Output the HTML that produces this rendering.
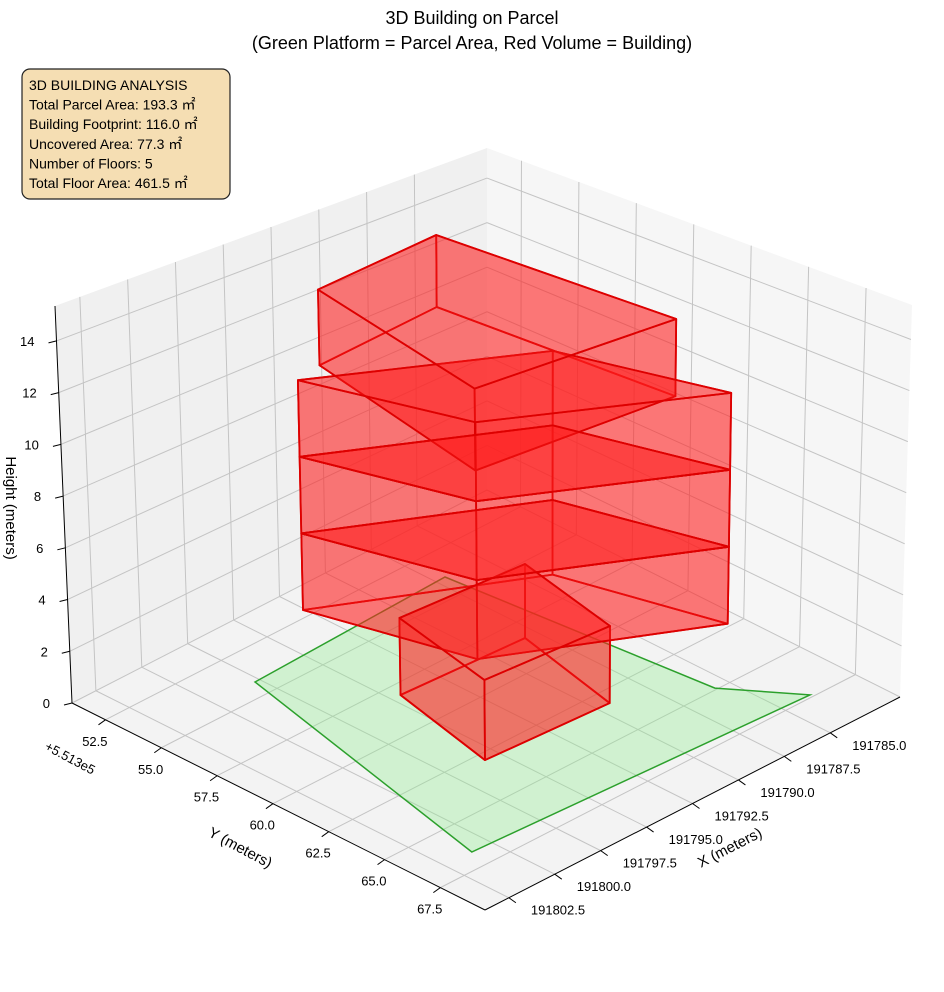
<!DOCTYPE html>
<html><head><meta charset="utf-8"><style>
html,body{margin:0;padding:0;background:#fff;}
svg{display:block;font-family:"Liberation Sans","Noto Sans CJK JP",sans-serif;}
</style></head><body>
<svg id="chart" width="944" height="992" viewBox="0 0 944 992" xmlns="http://www.w3.org/2000/svg">
<rect x="0" y="0" width="944" height="992" fill="#fff"/>
<text x="472" y="24" text-anchor="middle" font-size="18" fill="#000">3D Building on Parcel</text>
<text x="472" y="49" text-anchor="middle" font-size="18" fill="#000">(Green Platform = Parcel Area, Red Volume = Building)</text>
<g id="panes"></g>
<g id="grid"></g>
<g id="axes"></g>
<g id="parcel"></g>
<g id="building"></g>
<text x="0" y="0" transform="translate(6,508) rotate(90)" text-anchor="middle" font-size="15" fill="#000">Height (meters)</text>
<text x="0" y="0" transform="translate(238,852) rotate(28)" text-anchor="middle" font-size="15" fill="#000">Y (meters)</text>
<text x="0" y="0" transform="translate(732,852) rotate(-27)" text-anchor="middle" font-size="15" fill="#000">X (meters)</text>
<text x="0" y="0" transform="translate(68,762) rotate(28)" text-anchor="middle" font-size="13" fill="#000">+5.513e5</text>
<g>
<rect x="22" y="69" width="208" height="130" rx="8" ry="8" fill="#f5deb3" stroke="#222" stroke-width="1.2"/>
<text x="29" y="90" font-size="14" fill="#000">3D BUILDING ANALYSIS</text>
<text x="29" y="109.6" font-size="14" fill="#000">Total Parcel Area: 193.3 ㎡</text>
<text x="29" y="129.2" font-size="14" fill="#000">Building Footprint: 116.0 ㎡</text>
<text x="29" y="148.8" font-size="14" fill="#000">Uncovered Area: 77.3 ㎡</text>
<text x="29" y="168.4" font-size="14" fill="#000">Number of Floors: 5</text>
<text x="29" y="188" font-size="14" fill="#000">Total Floor Area: 461.5 ㎡</text>
</g>
</svg>
<script>
// axis ranges
const xMax = 191803.8, xSpan = 22.6;
const yMin = 51.0, ySpan = 18.5;
const zSpan = 15.35;
// tick values
const xTicks = [191785.0, 191787.5, 191790.0, 191792.5, 191795.0, 191797.5, 191800.0, 191802.5];
const yTicks = [52.5, 55.0, 57.5, 60.0, 62.5, 65.0, 67.5];
const zTicks = [0, 2, 4, 6, 8, 10, 12, 14];
// parcel polygon (x, y) at ground level
const parcelX = [191797.75, 191787.0, 191785.7, 191783.51, 191801.04];
const parcelY = [54.22, 53.89, 64.91, 67.37, 66.64];
// building footprints
const floor1X = [191794.53, 191795.75, 191789.34, 191788.12];
const floor1Y = [58.09, 62.88, 63.19, 58.40];
const midX = [191796.66, 191794.76, 191786.06, 191787.98];
const midY = [55.55, 61.75, 65.73, 59.51];
const topX = [191795.10, 191797.97, 191787.75, 191788.13];
const topY = [55.20, 64.41, 64.69, 54.55];
// floors: footprint index, base and top heights
const floorShape = [0, 1, 1, 1, 2];
const floorBase = [0, 3, 6, 9, 12];
const floorTop = [3, 6, 9, 12, 15];

const NS = 'http://www.w3.org/2000/svg';
function uvw(x, y, z) { return [(xMax - x) / xSpan, (y - yMin) / ySpan, z / zSpan]; }
function proj(x, y, z) {
  const [u, v, w] = uvw(x, y, z);
  const h = 397 - 55 * u + 50 * v;
  const sx = w * (-17 + 17 * u + 12 * v);
  return [72 + 415 * u + 413 * v + sx, 703 - 213 * u + 207 * v - w * h];
}
function mk(tag, attrs, parent) {
  const e = document.createElementNS(NS, tag);
  for (const k in attrs) e.setAttribute(k, attrs[k]);
  parent.appendChild(e);
  return e;
}
function ptsStr(arr) { return arr.map(p => p[0].toFixed(1) + ',' + p[1].toFixed(1)).join(' '); }

const xMin = xMax - xSpan, yMax = yMin + ySpan;
const panes = document.getElementById('panes');
let p;
p = mk('polygon', {points: ptsStr([proj(xMax, yMin, 0), proj(xMin, yMin, 0), proj(xMin, yMin, zSpan), proj(xMax, yMin, zSpan)]), fill: '#f0f0f0'}, panes);


p = mk('polygon', {points: ptsStr([proj(xMin, yMin, 0), proj(xMin, yMax, 0), proj(xMin, yMax, zSpan), proj(xMin, yMin, zSpan)]), fill: '#f6f6f6'}, panes);


p = mk('polygon', {points: ptsStr([proj(xMax, yMin, 0), proj(xMin, yMin, 0), proj(xMin, yMax, 0), proj(xMax, yMax, 0)]), fill: '#f3f3f3'}, panes);



const grid = document.getElementById('grid');
function gl(a, b, name) {
  const l = mk('line', {x1: a[0], y1: a[1], x2: b[0], y2: b[1], stroke: '#c4c4c4', 'stroke-width': 1}, grid);
  
  
}
xTicks.forEach(t => {
  gl(proj(t, yMin, 0), proj(t, yMax, 0), 'x-grid-floor');
  gl(proj(t, yMin, 0), proj(t, yMin, zSpan), 'x-grid-wall');
});
yTicks.forEach(t => {
  gl(proj(xMax, t, 0), proj(xMin, t, 0), 'y-grid-floor');
  gl(proj(xMin, t, 0), proj(xMin, t, zSpan), 'y-grid-wall');
});
zTicks.forEach(t => {
  gl(proj(xMax, yMin, t), proj(xMin, yMin, t), 'z-grid-left');
  gl(proj(xMin, yMin, t), proj(xMin, yMax, t), 'z-grid-right');
});

const axes = document.getElementById('axes');
function al(a, b, name) {
  const l = mk('line', {x1: a[0], y1: a[1], x2: b[0], y2: b[1], stroke: '#000', 'stroke-width': 1}, axes);
  
  
}
al(proj(xMax, yMin, 0), proj(xMax, yMin, zSpan), 'z-axis-line');
al(proj(xMax, yMin, 0), proj(xMax, yMax, 0), 'y-axis-line');
al(proj(xMax, yMax, 0), proj(xMin, yMax, 0), 'x-axis-line');
function tl(x, y, anchor, txt, name) {
  const t = mk('text', {x: x.toFixed(1), y: y.toFixed(1), 'text-anchor': anchor, 'font-size': 13, fill: '#000'}, axes);
  t.textContent = txt;
  
  
}
zTicks.forEach(t => {
  const q = proj(xMax, yMin, t);
  al(q, [q[0] - 8, q[1] + 2], 'z-tick');
  tl(q[0] - 22, q[1] + 5, 'end', String(t), 'z-tick-label');
});
yTicks.forEach(t => {
  const q = proj(xMax, t, 0);
  al(q, [q[0] - 7, q[1] + 5], 'y-tick');
  tl(q[0] + 2, q[1] + 26, 'end', t.toFixed(1), 'y-tick-label');
});
xTicks.forEach(t => {
  const q = proj(t, yMax, 0);
  al(q, [q[0] + 7, q[1] + 5], 'x-tick');
  tl(q[0] + 22, q[1] + 17, 'start', t.toFixed(1), 'x-tick-label');
});

const parcel = document.getElementById('parcel');
const pp = parcelX.map((x, i) => proj(x, parcelY[i], 0));
p = mk('polygon', {points: ptsStr(pp), fill: 'rgba(144,238,144,0.35)', stroke: '#2ca02c', 'stroke-width': 1.5}, parcel);



const building = document.getElementById('building');
const footX = [floor1X, midX, topX], footY = [floor1Y, midY, topY];
const faces = [];
const depthOf = pts3 => pts3.reduce((s, q) => { const [u, v, w] = uvw(q[0], q[1], q[2]); return s + u - v - 0.6 * w; }, 0) / pts3.length;
floorShape.forEach((s, k) => {
  const fx = footX[s], fy = footY[s], z0 = floorBase[k], z1 = floorTop[k], n = fx.length;
  const bottom = fx.map((x, i) => [x, fy[i], z0]);
  const top = fx.map((x, i) => [x, fy[i], z1]);
  faces.push({pts: bottom, d: depthOf(bottom) + 0.5, name: 'floor-' + (k + 1) + '-bottom'});
  for (let i = 0; i < n; i++) {
    const j = (i + 1) % n;
    const side = [[fx[i], fy[i], z0], [fx[j], fy[j], z0], [fx[j], fy[j], z1], [fx[i], fy[i], z1]];
    faces.push({pts: side, d: depthOf(side), name: 'floor-' + (k + 1) + '-side'});
  }
  faces.push({pts: top, d: depthOf(top) - 0.5, name: 'floor-' + (k + 1) + '-top'});
});
faces.sort((a, b) => b.d - a.d);
faces.forEach(f => {
  const pg = mk('polygon', {points: ptsStr(f.pts.map(q => proj(q[0], q[1], q[2]))), fill: 'rgba(255,30,30,0.36)', stroke: '#dd0000', 'stroke-width': 1.8, 'stroke-linejoin': 'round'}, building);
  
  
});
</script>
</body></html>
